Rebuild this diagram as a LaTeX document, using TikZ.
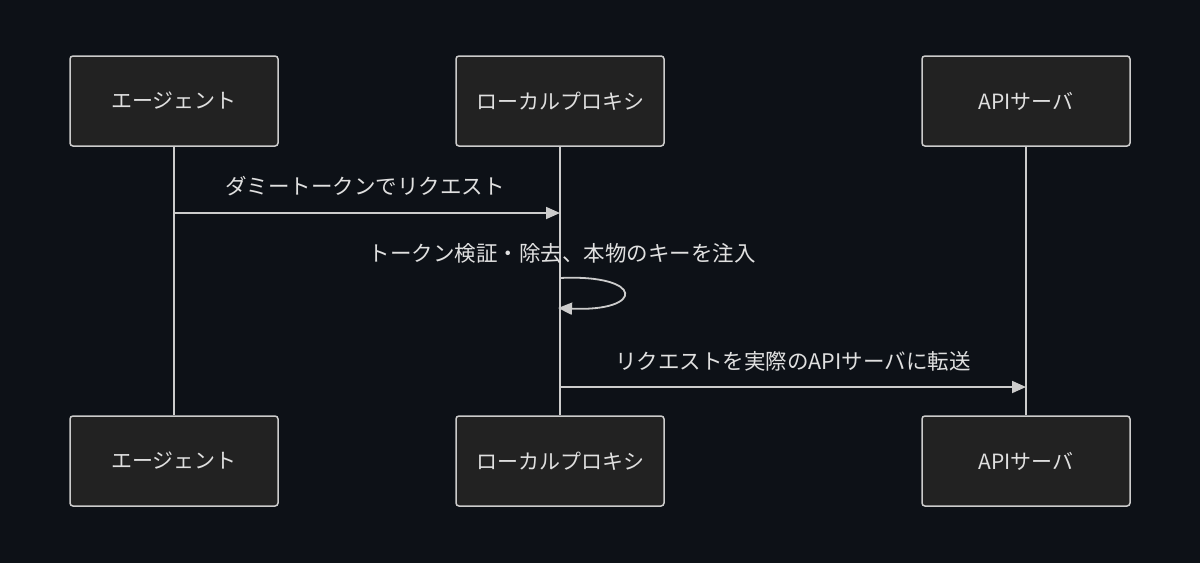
\documentclass[tikz,border=0pt]{standalone}
\usepackage{fontspec}
\setmainfont{Noto Sans CJK JP}
\usetikzlibrary{arrows.meta}
\definecolor{bg}{HTML}{0D1117}
\definecolor{boxfill}{HTML}{222222}
\definecolor{ln}{HTML}{CCCCCC}
\definecolor{tx}{HTML}{E0E0E0}
\begin{document}
\begin{tikzpicture}[x=1pt,y=-1pt,
  actor/.style={draw=ln,fill=boxfill,line width=1.5pt,rounded corners=3pt,minimum width=208pt,minimum height=90pt,text=tx,font=\fontsize{21}{25}\selectfont,inner sep=0pt},
  life/.style={ln,line width=2pt},
  msg/.style={ln,line width=1.8pt,-{Triangle[length=14pt,width=12pt]}},
  lbl/.style={text=tx,font=\fontsize{21.5}{25}\selectfont}]
\fill[bg] (0,0) rectangle (1200,563);
\useasboundingbox (0,0) rectangle (1200,563);
\node[actor] (a1) at (174,101) {エージェント};
\node[actor] (p1) at (560,101) {ローカルプロキシ};
\node[actor] (s1) at (1026,101) {APIサーバ};
\node[actor] (a2) at (174,461) {エージェント};
\node[actor] (p2) at (560,461) {ローカルプロキシ};
\node[actor] (s2) at (1026,461) {APIサーバ};
\draw[life] (a1.south) -- (a2.north);
\draw[life] (p1.south) -- (p2.north);
\draw[life] (s1.south) -- (s2.north);
\coordinate (m1a) at (174,213); \coordinate (m1b) at (560,213);
\draw[msg] (m1a) -- (m1b);
\node[lbl] (l1) at (365,186) {ダミートークンでリクエスト};
\coordinate (m2a) at (560,278); \coordinate (m2b) at (558,308);
\draw[msg] (m2a) .. controls (645,274) and (645,312) .. (m2b);
\node[lbl] (l2) at (562,253) {トークン検証・除去、本物のキーを注入};
\coordinate (m3a) at (560,387); \coordinate (m3b) at (1026,387);
\draw[msg] (m3a) -- (m3b);
\node[lbl] (l3) at (793,361) {リクエストを実際のAPIサーバに転送};
\end{tikzpicture}
\end{document}
